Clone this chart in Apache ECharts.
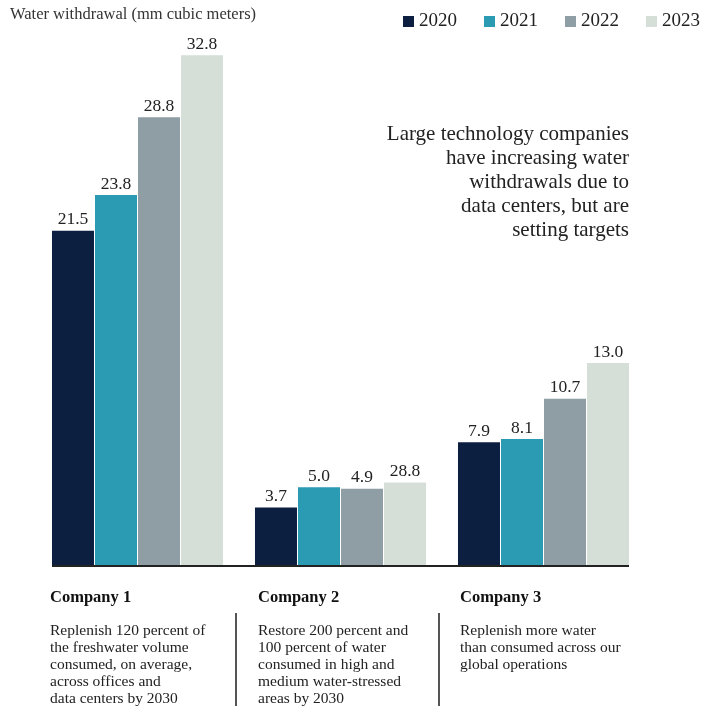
<!DOCTYPE html>
<html>
<head>
<meta charset="utf-8">
<script src="https://cdn.jsdelivr.net/npm/echarts@6/dist/echarts.min.js"></script>
<style>html,body{margin:0;padding:0;background:#fff}#c{width:717px;height:711px}</style>
</head>
<body>
<div id="c"></div>
<script>
const categories = ['Company 1', 'Company 2', 'Company 3'];
const descriptions = [
  'Replenish 120 percent of\nthe freshwater volume\nconsumed, on average,\nacross offices and\ndata centers by 2030',
  'Restore 200 percent and\n100 percent of water\nconsumed in high and\nmedium water-stressed\nareas by 2030',
  'Replenish more water\nthan consumed across our\nglobal operations'
];
const years = ['2020', '2021', '2022', '2023'];
const v2020 = [21.5, 3.7, 7.9];
const v2021 = [23.8, 5.0, 8.1];
const v2022 = [28.8, 4.9, 10.7];
const v2023 = [32.8, 5.3, 13.0];
const labels2020 = ['21.5', '3.7', '7.9'];
const labels2021 = ['23.8', '5.0', '8.1'];
const labels2022 = ['28.8', '4.9', '10.7'];
const labels2023 = ['32.8', '28.8', '13.0'];
const colors = ['#0d1f40', '#2b9ab3', '#8e9ea4', '#d5dfd7'];
const yTitle = 'Water withdrawal (mm cubic meters)';
const note = 'Large technology companies\nhave increasing water\nwithdrawals due to\ndata centers, but are\nsetting targets';

const FONT = '"Liberation Serif", serif';
const chart = echarts.init(document.getElementById('c'), null, {renderer: 'canvas'});
const seriesVals = [v2020, v2021, v2022, v2023];
const seriesLabels = [labels2020, labels2021, labels2022, labels2023];

const option = {
  backgroundColor: '#fff',
  animation: false,
  textStyle: {fontFamily: FONT},
  grid: {left: 36, right: 72, top: 21, bottom: 146},
  legend: {
    data: years, right: 12, top: 7,
    itemWidth: 11, itemHeight: 11, itemGap: 27, icon: 'rect',
    textStyle: {fontFamily: FONT, fontSize: 19, color: '#222'}
  },
  xAxis: {
    type: 'category', data: categories,
    axisLine: {show: false}, axisTick: {show: false}, axisLabel: {show: false}
  },
  yAxis: {type: 'value', min: 0, max: 35, show: false, splitLine: {show: false}},
  series: years.map((y, i) => ({
    name: y, type: 'bar', data: seriesVals[i],
    barWidth: 42, barGap: '2.4%',
    itemStyle: {color: colors[i]},
    label: {
      show: true, position: 'top', distance: 2,
      fontFamily: FONT, fontSize: 17.5, color: '#222',
      formatter: p => seriesLabels[i][p.dataIndex]
    }
  }))
};
chart.setOption(option);

// layout-dependent text and rules
const groupHalf = (4 * 42 + 3 * 1) / 2;
const textShift = [-2, 3, 2];
const centers = categories.map((c, i) => chart.convertToPixel({xAxisIndex: 0}, i));
const base = chart.convertToPixel({yAxisIndex: 0}, 0);
const g = [];
g.push({type: 'text', left: 10, top: 6, style: {text: yTitle, font: '16.5px ' + FONT, fill: '#333'}});
g.push({type: 'text', right: 88, top: 122, style: {text: note, font: '21px ' + FONT, fill: '#222', textAlign: 'right', lineHeight: 24}});
g.push({type: 'line', shape: {x1: centers[0] - groupHalf, y1: base + 1, x2: centers[2] + groupHalf, y2: base + 1}, style: {stroke: '#222', lineWidth: 2}});
categories.forEach((c, i) => {
  const x = centers[i] - groupHalf + textShift[i];
  g.push({type: 'text', x: x, y: base + 24, style: {text: c, font: 'bold 16.5px ' + FONT, fill: '#111'}});
  g.push({type: 'text', x: x, y: base + 57, style: {text: descriptions[i], font: '15.5px ' + FONT, fill: '#222', lineHeight: 17}});
  if (i > 0) {
    const sx = (centers[i - 1] + groupHalf + centers[i] - groupHalf) / 2 - 3;
    g.push({type: 'line', shape: {x1: sx, y1: base + 48, x2: sx, y2: base + 141}, style: {stroke: '#555', lineWidth: 2}});
  }
});
chart.setOption({graphic: g});
</script>
</body>
</html>
